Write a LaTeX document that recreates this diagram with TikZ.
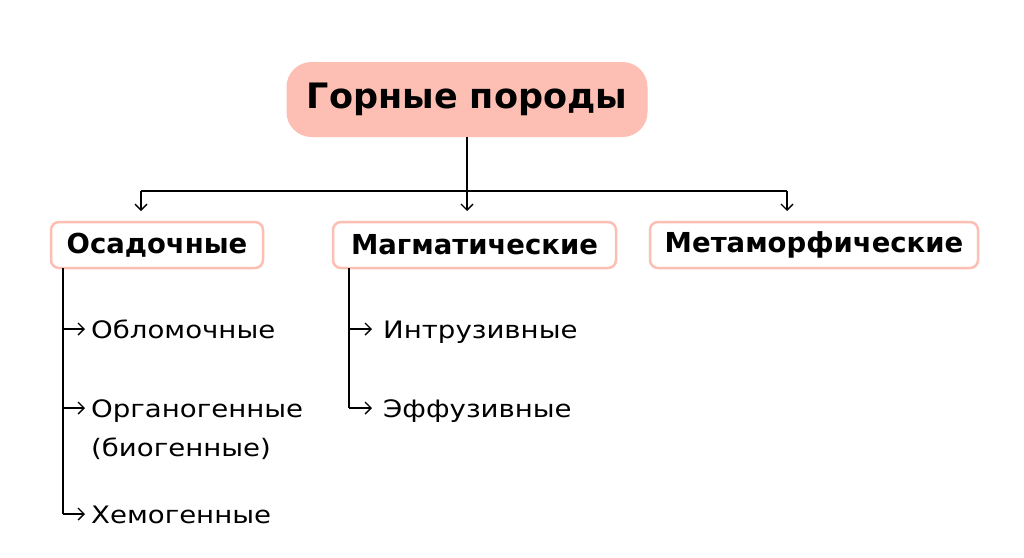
\documentclass[tikz,border=0pt]{standalone}
\usepackage{fontspec}
\setmainfont{DejaVu Sans}
\newfontfamily\itemfont[FakeStretch=1.15]{DejaVu Sans}
\usetikzlibrary{arrows.meta}
\definecolor{salmon}{HTML}{FDBFB3}
\tikzset{
  topbox/.style={fill=salmon, draw=none, rounded corners=25pt, minimum width=361pt, minimum height=75pt, inner sep=0pt, font=\fontsize{35}{40}\selectfont\bfseries},
  catbox/.style={draw=salmon, line width=2.5pt, fill=white, rounded corners=8pt, minimum height=46pt, inner sep=0pt, font=\fontsize{27.5}{32}\selectfont\bfseries},
  item/.style={anchor=base west, inner sep=0pt, font=\itemfont\fontsize{24}{39}\selectfont, align=left},
  conn/.style={line width=1.4pt, black},
  arr/.style={conn, -{Straight Barb[length=6pt, width=12pt, line width=1.4pt]}},
}
\begin{document}
\begin{tikzpicture}[x=1pt,y=-1pt]
\useasboundingbox (0,0) rectangle (1024,557);
\fill[white] (0,0) rectangle (1024,557);
\node[topbox] (root) at (467,99.5) {Горные породы};
\node[catbox, minimum width=212pt] (sed) at (157,245) {Осадочные};
\node[catbox, minimum width=283pt] (mag) at (474.5,245) {Магматические};
\node[catbox, minimum width=328pt] (met) at (814,245) {Метаморфические};
\coordinate (hub) at (467,191);
\coordinate (hl) at (141,191);
\coordinate (hr) at (787,191);
\coordinate (tl) at (141,211);
\coordinate (tm) at (467,211);
\coordinate (tr) at (787,211);
\draw[conn] (root.south) -- (hub);
\draw[conn] (hl) -- (hr);
\draw[arr] (hl) -- (tl);
\draw[arr] (hub) -- (tm);
\draw[arr] (hr) -- (tr);
% sub items
\node[item] (s1) at (91,338.5) {Обломочные};
\node[item] (s2) at (91,456.5) {Органогенные\\(биогенные)};
\node[item] (s3) at (91,523.5) {Хемогенные};
\node[item] (m1) at (383,338.5) {Интрузивные};
\node[item] (m2) at (383,417.5) {Эффузивные};
\coordinate (sa) at (63,268);
\coordinate (s1j) at (63,329);
\coordinate (s2j) at (63,408);
\coordinate (s3j) at (63,514);
\coordinate (ma) at (349,268);
\coordinate (m1j) at (349,329);
\coordinate (m2j) at (349,408);
\draw[conn] (sa) -- (s3j);
\draw[arr, shorten >=6pt] (s1j) -- (s1j -| s1.west);
\draw[arr, shorten >=6pt] (s2j) -- (s2j -| s2.west);
\draw[arr, shorten >=6pt] (s3j) -- (s3j -| s3.west);
\draw[conn] (ma) -- (m2j);
\draw[arr, shorten >=11pt] (m1j) -- (m1j -| m1.west);
\draw[arr, shorten >=11pt] (m2j) -- (m2j -| m2.west);
\end{tikzpicture}
\end{document}
